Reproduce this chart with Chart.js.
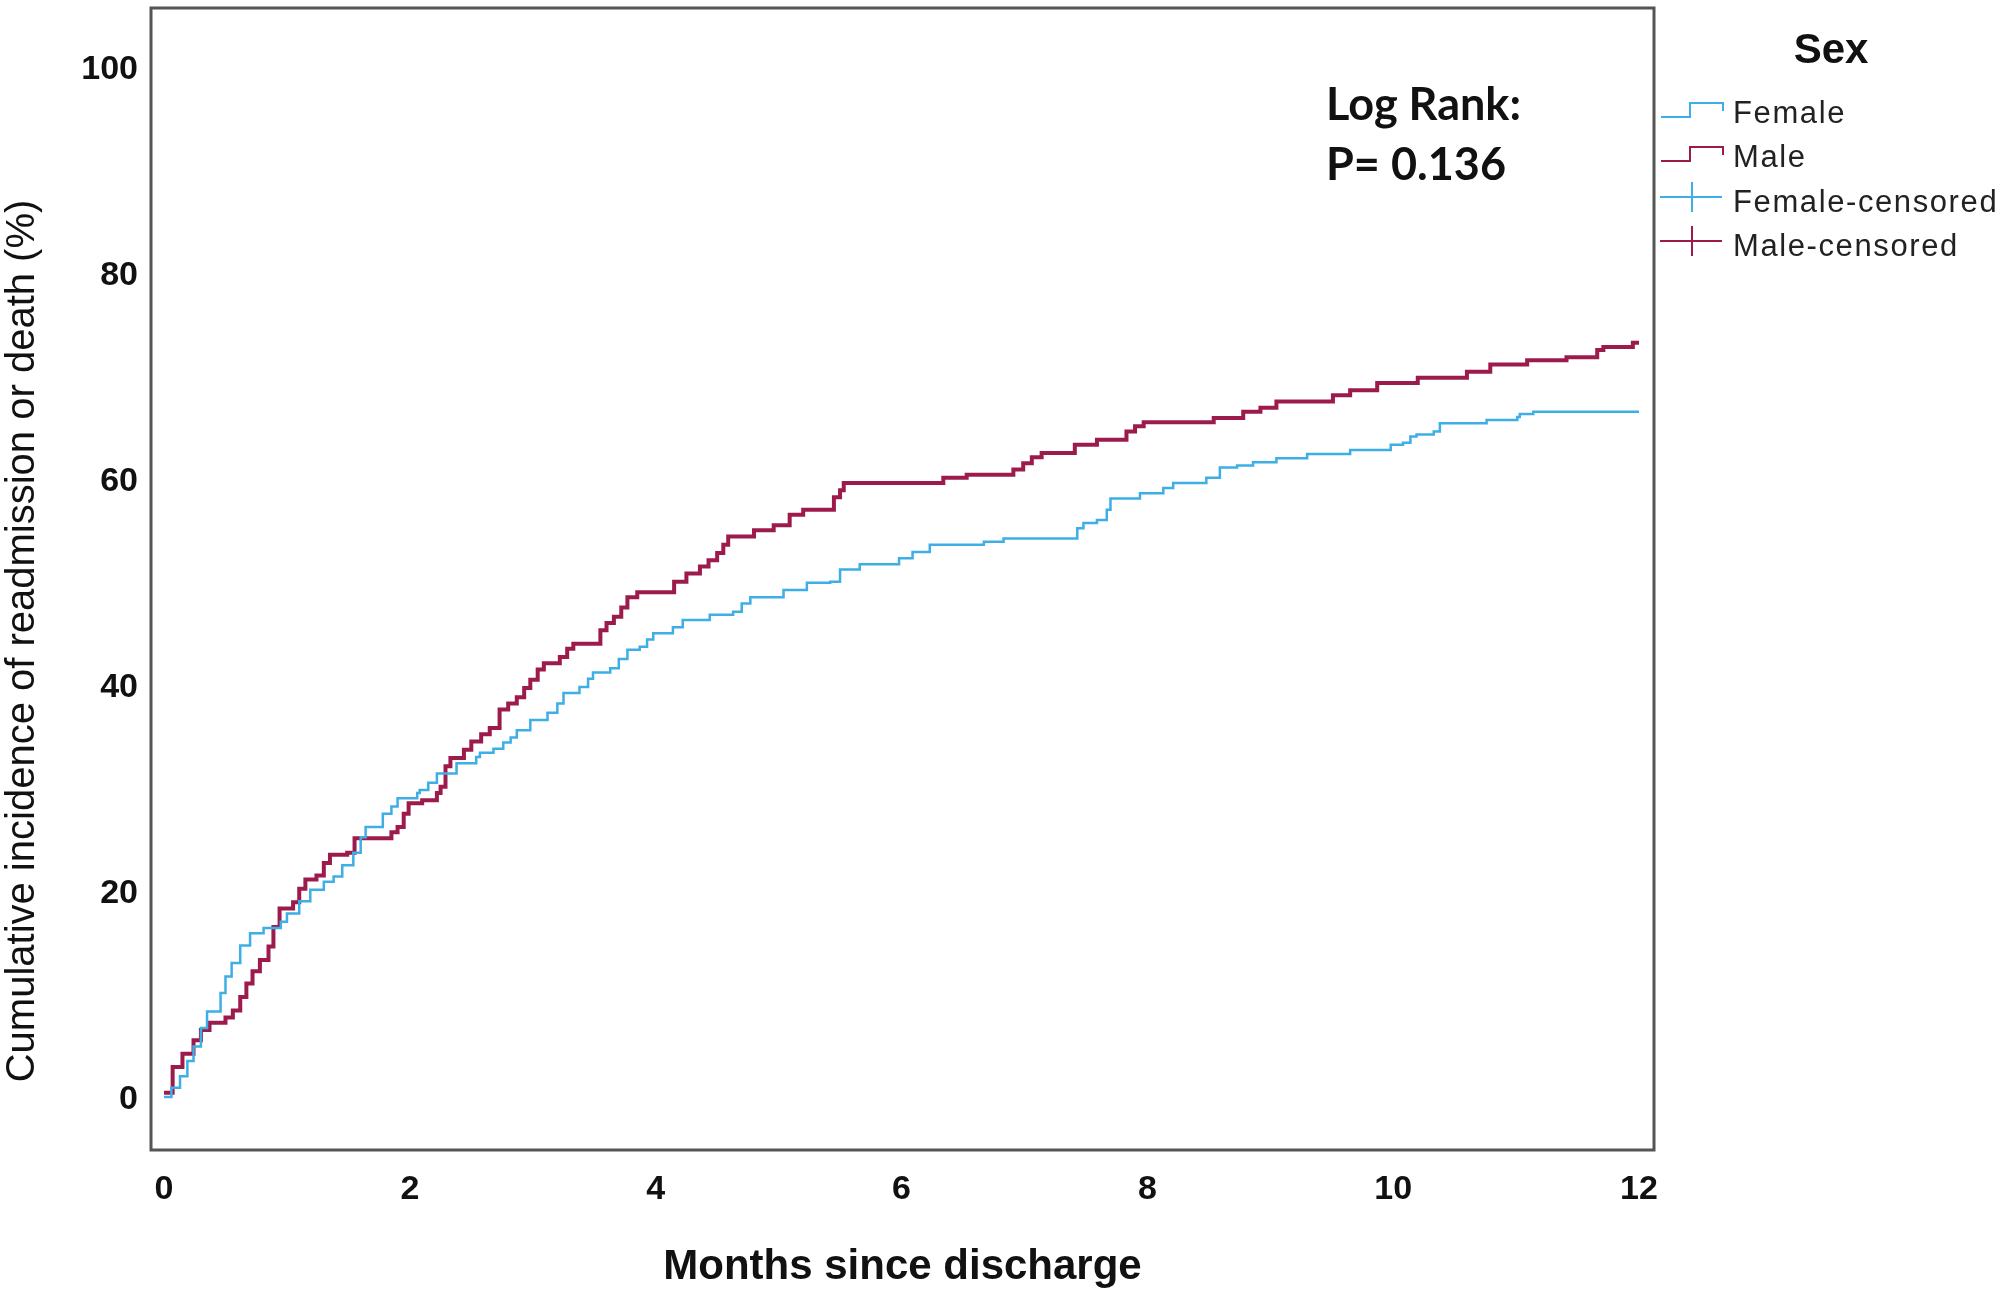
<!DOCTYPE html>
<html>
<head>
<meta charset="utf-8">
<title>Cumulative incidence of readmission or death by sex</title>
<script src="https://cdn.jsdelivr.net/npm/chart.js@4.4.1/dist/chart.umd.min.js"></script>
<style>
  html, body { margin: 0; padding: 0; background: #fff; }
  canvas { display: block; }
</style>
</head>
<body>
<canvas id="kmChart" width="2008" height="1303"></canvas>
<script>
// step points: at each month the curve jumps to the matching value (%)
const femaleMonths = [0.00, 0.06, 0.13, 0.19, 0.24, 0.30, 0.35, 0.46, 0.50, 0.55, 0.62, 0.70, 0.81, 0.95, 1.00, 1.10, 1.19, 1.30, 1.38, 1.45, 1.54, 1.60, 1.64, 1.78, 1.85, 1.90, 2.06, 2.08, 2.15, 2.22, 2.38, 2.54, 2.57, 2.68, 2.76, 2.82, 2.87, 2.98, 3.12, 3.20, 3.25, 3.38, 3.45, 3.49, 3.63, 3.70, 3.77, 3.87, 3.93, 3.98, 4.14, 4.22, 4.44, 4.63, 4.70, 4.77, 5.04, 5.23, 5.42, 5.50, 5.66, 5.98, 6.09, 6.23, 6.67, 6.83, 7.43, 7.48, 7.59, 7.67, 7.70, 7.94, 8.13, 8.21, 8.48, 8.59, 8.73, 8.86, 9.05, 9.30, 9.65, 9.98, 10.08, 10.14, 10.19, 10.33, 10.38, 10.76, 11.01, 11.03, 11.14, 12.00];
const femaleIncidence = [0.3, 1.2, 2.3, 3.8, 5.2, 7.0, 8.6, 10.4, 12.0, 13.3, 15.0, 16.2, 16.7, 17.3, 18.1, 19.3, 20.4, 21.2, 21.7, 22.8, 24.0, 25.5, 26.5, 27.8, 28.5, 29.3, 29.8, 30.1, 30.8, 31.7, 32.7, 33.3, 33.7, 34.1, 34.7, 35.2, 35.9, 36.9, 37.6, 38.5, 39.5, 40.1, 40.9, 41.5, 41.9, 42.8, 43.7, 44.0, 44.7, 45.3, 45.9, 46.6, 47.1, 47.4, 48.2, 48.8, 49.5, 50.2, 50.3, 51.5, 52.0, 52.6, 53.2, 53.9, 54.2, 54.5, 55.5, 56.0, 56.3, 57.3, 58.4, 58.9, 59.4, 59.9, 60.4, 61.4, 61.6, 61.9, 62.3, 62.7, 63.1, 63.6, 63.8, 64.4, 64.6, 64.9, 65.7, 66.0, 66.3, 66.6, 66.8, 66.8];

const maleMonths = [0.00, 0.07, 0.15, 0.24, 0.30, 0.37, 0.50, 0.56, 0.62, 0.67, 0.72, 0.78, 0.85, 0.89, 0.94, 1.05, 1.10, 1.15, 1.24, 1.30, 1.35, 1.49, 1.55, 1.85, 1.90, 1.95, 1.99, 2.10, 2.22, 2.25, 2.29, 2.33, 2.44, 2.50, 2.58, 2.65, 2.73, 2.80, 2.87, 2.93, 2.98, 3.04, 3.09, 3.22, 3.28, 3.33, 3.55, 3.60, 3.66, 3.72, 3.77, 3.85, 4.15, 4.25, 4.36, 4.43, 4.50, 4.55, 4.59, 4.80, 4.96, 5.09, 5.20, 5.45, 5.50, 5.53, 6.34, 6.53, 6.91, 6.99, 7.06, 7.14, 7.41, 7.59, 7.83, 7.90, 7.97, 8.54, 8.78, 8.92, 9.05, 9.51, 9.65, 9.87, 10.20, 10.60, 10.79, 11.09, 11.41, 11.66, 11.71, 11.95, 12.00];
const maleIncidence = [0.7, 3.2, 4.5, 5.8, 6.8, 7.5, 8.0, 8.7, 10.0, 11.3, 12.5, 13.6, 14.9, 16.8, 18.6, 19.2, 20.5, 21.4, 21.8, 23.0, 23.8, 24.0, 25.4, 26.0, 26.5, 27.8, 28.8, 29.1, 29.8, 30.4, 32.4, 33.2, 34.0, 34.8, 35.5, 36.1, 37.9, 38.5, 39.1, 40.0, 40.8, 41.8, 42.4, 43.0, 43.8, 44.3, 45.6, 46.3, 46.9, 47.8, 48.8, 49.3, 50.3, 51.1, 51.8, 52.4, 53.1, 53.9, 54.7, 55.3, 55.8, 56.8, 57.3, 58.5, 59.2, 59.9, 60.4, 60.7, 61.2, 61.8, 62.4, 62.8, 63.6, 64.1, 64.9, 65.4, 65.8, 66.2, 66.8, 67.2, 67.8, 68.4, 68.9, 69.6, 70.1, 70.7, 71.4, 71.8, 72.1, 72.8, 73.1, 73.5, 73.5];

const monthTicks = [0, 2, 4, 6, 8, 10, 12];
const percentTicks = [0, 20, 40, 60, 80, 100];
const legendLabels = ["Female", "Male", "Female-censored", "Male-censored"];
const legendTitle = "Sex";
const logRankLines = ["Log Rank:", "P= 0.136"];

const femaleColor = "#3eaee6";
const maleColor = "#9d1b4c";
const sansFont = "'Liberation Sans', Arial, sans-serif";

function toPoints(xs, ys) {
  return xs.map((x, i) => ({ x: x, y: ys[i] }));
}

function useTicks(values) {
  return function (scale) {
    scale.ticks = values.map(v => ({ value: v }));
  };
}

// frame, y title, legend and log-rank note
const extrasPlugin = {
  id: "extras",
  afterDraw(chart) {
    const ctx = chart.ctx;
    const a = chart.chartArea;
    ctx.save();

    ctx.strokeStyle = "#555";
    ctx.lineWidth = 3;
    ctx.strokeRect(a.left, a.top, a.right - a.left, a.bottom - a.top);

    ctx.fillStyle = "#111";
    ctx.translate(23, 641);
    ctx.rotate(-Math.PI / 2);
    ctx.font = "40px " + sansFont;
    ctx.textAlign = "center";
    ctx.textBaseline = "middle";
    ctx.fillText("Cumulative incidence of readmission or death (%)", 0, 0);
    ctx.setTransform(1, 0, 0, 1, 0, 0);

    ctx.font = "bold 42px " + sansFont;
    ctx.textAlign = "center";
    ctx.textBaseline = "alphabetic";
    ctx.fillStyle = "#111";
    ctx.fillText(legendTitle, 1831, 63);

    const colors = [femaleColor, maleColor, femaleColor, maleColor];
    const baselines = [123, 167, 212, 256];
    ctx.lineCap = "butt";
    for (let i = 0; i < 4; i++) {
      const y = baselines[i];
      ctx.strokeStyle = colors[i];
      ctx.lineWidth = 2;
      ctx.beginPath();
      if (i < 2) {
        ctx.moveTo(1661, y - 6);
        ctx.lineTo(1690, y - 6);
        ctx.lineTo(1690, y - 20);
        ctx.lineTo(1723, y - 20);
        ctx.lineTo(1723, y - 12);
      } else {
        ctx.moveTo(1660, y - 15);
        ctx.lineTo(1722, y - 15);
        ctx.moveTo(1692, y - 30);
        ctx.lineTo(1692, y);
      }
      ctx.stroke();
    }
    ctx.font = "31px " + sansFont;
    ctx.letterSpacing = "1.6px";
    ctx.textAlign = "left";
    ctx.fillStyle = "#222";
    legendLabels.forEach((t, i) => ctx.fillText(t, 1733, baselines[i]));
    ctx.letterSpacing = "0px";

    ctx.font = "bold 45px Lato, 'Open Sans', sans-serif";
    ctx.fillStyle = "#111";
    ctx.fillText(logRankLines[0], 1326, 120, 198);
    ctx.fillText(logRankLines[1], 1326, 180, 181);

    ctx.restore();
  }
};

const tickFont = { family: sansFont, size: 34, weight: "bold" };

new Chart(document.getElementById("kmChart").getContext("2d"), {
  type: "line",
  data: {
    datasets: [
      {
        label: "Female",
        data: toPoints(femaleMonths, femaleIncidence),
        borderColor: femaleColor,
        borderWidth: 2.5,
        stepped: true,
        pointRadius: 0,
        fill: false
      },
      {
        label: "Male",
        data: toPoints(maleMonths, maleIncidence),
        borderColor: maleColor,
        borderWidth: 4,
        stepped: true,
        pointRadius: 0,
        fill: false
      }
    ]
  },
  options: {
    responsive: false,
    animation: false,
    devicePixelRatio: 1,
    layout: { padding: { left: 0, top: 8, right: 354, bottom: 0 } },
    plugins: {
      legend: { display: false },
      tooltip: { enabled: false }
    },
    scales: {
      x: {
        type: "linear",
        min: -0.106,
        max: 12.122,
        grid: { display: false },
        border: { display: false },
        afterBuildTicks: useTicks(monthTicks),
        ticks: { font: tickFont, color: "#111", padding: 11, maxRotation: 0 },
        title: {
          display: true,
          text: "Months since discharge",
          color: "#111",
          font: { family: sansFont, size: 42, weight: "bold" },
          padding: { top: 0, bottom: 10 }
        },
        afterFit(scale) {
          scale.height = 153;
          scale.paddingLeft = 0;
          scale.paddingRight = 0;
        }
      },
      y: {
        min: -4.85,
        max: 106,
        grid: { display: false },
        border: { display: false },
        afterBuildTicks: useTicks(percentTicks),
        ticks: { font: tickFont, color: "#111", padding: 5 },
        afterFit(scale) {
          scale.width = 151;
          scale.paddingTop = 0;
          scale.paddingBottom = 0;
        }
      }
    }
  },
  plugins: [extrasPlugin]
});
</script>
</body>
</html>
